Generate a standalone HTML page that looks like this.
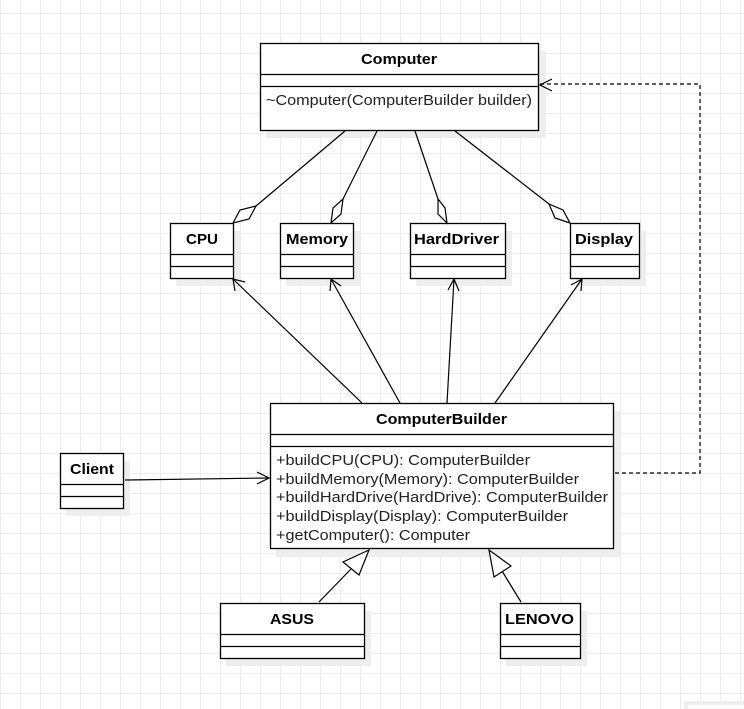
<!DOCTYPE html>
<html><head><style>
html,body{margin:0;padding:0;background:#fff;}
svg{display:block;}
text{font-family:"Liberation Sans",Arial,sans-serif;fill:#000;}
.b{font-weight:bold;font-size:15px;}
.m{font-size:15px;fill:#222;}
</style></head><body>
<svg width="744" height="709" viewBox="0 0 744 709" xmlns="http://www.w3.org/2000/svg">
<defs>
<pattern id="g" x="0" y="13" width="20" height="20" patternUnits="userSpaceOnUse">
<path d="M0 0.5H20M0.5 0V20" stroke="#ececec" stroke-width="1" fill="none"/>
</pattern>
</defs>
<rect width="744" height="709" fill="#fff"/>
<rect width="744" height="709" fill="url(#g)"/>
<g fill="#eeeeee">
<rect x="266" y="51" width="280" height="87"/>
<rect x="176" y="231" width="64" height="55"/>
<rect x="286" y="231" width="74" height="55"/>
<rect x="416" y="231" width="96" height="55"/>
<rect x="576" y="231" width="70" height="55"/>
<rect x="276" y="411" width="344" height="146"/>
<rect x="66" y="461" width="64" height="55"/>
<rect x="226" y="611" width="145" height="55"/>
<rect x="506" y="611" width="81" height="55"/>
<rect x="684" y="701" width="60" height="8"/>
</g>
<rect x="688" y="705" width="56" height="4" fill="#fff"/>
<g fill="#fff" stroke="#000" stroke-width="1.3">
<rect x="260.5" y="43.5" width="278" height="87"/>
<line x1="260.5" y1="74.5" x2="538.5" y2="74.5"/><line x1="260.5" y1="86.5" x2="538.5" y2="86.5"/>
<rect x="170.5" y="223.5" width="63" height="55"/>
<line x1="170.5" y1="254.5" x2="233.5" y2="254.5"/><line x1="170.5" y1="266.5" x2="233.5" y2="266.5"/>
<rect x="280.5" y="223.5" width="73" height="55"/>
<line x1="280.5" y1="254.5" x2="353.5" y2="254.5"/><line x1="280.5" y1="266.5" x2="353.5" y2="266.5"/>
<rect x="410.5" y="223.5" width="95" height="55"/>
<line x1="410.5" y1="254.5" x2="505.5" y2="254.5"/><line x1="410.5" y1="266.5" x2="505.5" y2="266.5"/>
<rect x="570.5" y="223.5" width="69" height="55"/>
<line x1="570.5" y1="254.5" x2="639.5" y2="254.5"/><line x1="570.5" y1="266.5" x2="639.5" y2="266.5"/>
<rect x="270.5" y="403.5" width="343" height="145"/>
<line x1="270.5" y1="434.5" x2="613.5" y2="434.5"/><line x1="270.5" y1="446.5" x2="613.5" y2="446.5"/>
<rect x="60.5" y="453.5" width="63" height="55"/>
<line x1="60.5" y1="484.5" x2="123.5" y2="484.5"/><line x1="60.5" y1="496.5" x2="123.5" y2="496.5"/>
<rect x="220.5" y="603.5" width="144" height="55"/>
<line x1="220.5" y1="634.5" x2="364.5" y2="634.5"/><line x1="220.5" y1="646.5" x2="364.5" y2="646.5"/>
<rect x="500.5" y="603.5" width="80" height="55"/>
<line x1="500.5" y1="634.5" x2="580.5" y2="634.5"/><line x1="500.5" y1="646.5" x2="580.5" y2="646.5"/>
</g>
<text class="b" x="361" y="64" textLength="76" lengthAdjust="spacingAndGlyphs">Computer</text>
<text class="m" x="266" y="105" textLength="266" lengthAdjust="spacingAndGlyphs">~Computer(ComputerBuilder builder)</text>
<text class="b" x="186" y="244" textLength="32" lengthAdjust="spacingAndGlyphs">CPU</text>
<text class="b" x="286" y="244" textLength="62" lengthAdjust="spacingAndGlyphs">Memory</text>
<text class="b" x="414" y="244" textLength="85" lengthAdjust="spacingAndGlyphs">HardDriver</text>
<text class="b" x="575" y="244" textLength="58" lengthAdjust="spacingAndGlyphs">Display</text>
<text class="b" x="376" y="424" textLength="131" lengthAdjust="spacingAndGlyphs">ComputerBuilder</text>
<text class="m" x="276" y="465" textLength="254" lengthAdjust="spacingAndGlyphs">+buildCPU(CPU): ComputerBuilder</text>
<text class="m" x="276" y="484" textLength="303" lengthAdjust="spacingAndGlyphs">+buildMemory(Memory): ComputerBuilder</text>
<text class="m" x="276" y="502" textLength="332" lengthAdjust="spacingAndGlyphs">+buildHardDrive(HardDrive): ComputerBuilder</text>
<text class="m" x="276" y="521" textLength="292" lengthAdjust="spacingAndGlyphs">+buildDisplay(Display): ComputerBuilder</text>
<text class="m" x="276" y="540" textLength="194" lengthAdjust="spacingAndGlyphs">+getComputer(): Computer</text>
<text class="b" x="70" y="474" textLength="44" lengthAdjust="spacingAndGlyphs">Client</text>
<text class="b" x="270" y="624" textLength="44" lengthAdjust="spacingAndGlyphs">ASUS</text>
<text class="b" x="505" y="624" textLength="69" lengthAdjust="spacingAndGlyphs">LENOVO</text>
<g stroke="#000" stroke-width="1.2" fill="none">
<line x1="345" y1="131" x2="256" y2="206"/>
<path d="M233 223 L240 210 L256 206 L249 219 Z" fill="#fff"/>
<line x1="377" y1="131" x2="343" y2="199"/>
<path d="M331 223 L333 208 L343 199 L341 214 Z" fill="#fff"/>
<line x1="415" y1="131" x2="438" y2="199"/>
<path d="M447 223 L438 214 L438 199 L445 208 Z" fill="#fff"/>
<line x1="455" y1="131" x2="549" y2="204"/>
<path d="M570 223 L555 218 L549 204 L563 210 Z" fill="#fff"/>
<line x1="362" y1="403" x2="233" y2="279"/><path d="M235 291 L233 279 L245 282"/>
<line x1="400" y1="403" x2="331" y2="279"/><path d="M330 291 L331 279 L341 286"/>
<line x1="447" y1="403" x2="454" y2="279"/><path d="M448 290 L454 279 L459 291"/>
<line x1="495" y1="403" x2="582" y2="279"/><path d="M571 285 L582 279 L581 291"/>
<line x1="125" y1="480" x2="269" y2="478"/><path d="M257 472 L269 478 L257 484"/>
<line x1="319" y1="602" x2="351" y2="569"/>
<path d="M369 550 L359 575 L343 562 Z" fill="#fff"/>
<line x1="521" y1="602" x2="502" y2="571"/>
<path d="M489 550 L511 566 L494 577 Z" fill="#fff"/>
<path d="M615 473 H700 V84 H540" stroke-dasharray="4 3"/>
<path d="M552 79 L540 85 L552 91"/>
</g>
</svg>
</body></html>
